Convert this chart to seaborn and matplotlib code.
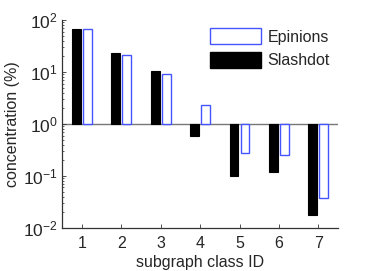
import numpy as np
import pandas as pd
import seaborn as sns
import matplotlib
matplotlib.use("Agg")
import matplotlib.pyplot as plt
from matplotlib.patches import Patch

classes = ["1", "2", "3", "4", "5", "6", "7"]
slashdot = [67, 23, 10.4, 0.6, 0.1, 0.12, 0.018]
epinions = [68, 21, 9.2, 2.3, 0.28, 0.25, 0.038]

sns.set_style("ticks")
plt.rcParams["font.family"] = ["Liberation Sans", "DejaVu Sans"]
plt.rcParams["mathtext.fontset"] = "custom"
plt.rcParams["mathtext.rm"] = "Liberation Sans"
plt.rcParams["mathtext.it"] = "Liberation Sans:italic"
plt.rcParams["xtick.direction"] = "in"
plt.rcParams["ytick.direction"] = "in"

df = pd.DataFrame({
    "cls": classes * 2,
    "val": np.log10(slashdot + epinions),
    "net": ["Slashdot"] * 7 + ["Epinions"] * 7,
})

blue = "#4455ff"
fig = plt.figure(figsize=(3.74, 2.71), dpi=100)
ax = fig.add_axes([0.166, 0.159, 0.738, 0.767])
sns.barplot(data=df, x="cls", y="val", hue="net", hue_order=["Slashdot", "Epinions"],
            palette=["black", "white"], width=0.56, gap=0.2, legend=False, ax=ax)

for p in ax.containers[0]:
    p.set_facecolor("black")
    p.set_edgecolor("black")
    p.set_linewidth(0.8)
for p in ax.containers[1]:
    p.set_facecolor("white")
    p.set_edgecolor(blue)
    p.set_linewidth(1.0)

ax.axhline(0, color="#777777", lw=1.0, zorder=0.5)
ax.set_xlim(-0.5, 6.5)
ax.set_ylim(-2, 2)
ax.set_yticks([-2, -1, 0, 1, 2])
ax.set_yticklabels([r"$10^{-2}$", r"$10^{-1}$", r"$10^{0}$", r"$10^{1}$", r"$10^{2}$"])
minor = [k + np.log10(m) for k in range(-2, 2) for m in range(2, 10)]
ax.set_yticks(minor, minor=True)
ax.tick_params(axis="x", labelsize=11.5, length=3, width=0.6, color="#333333", pad=6)
ax.tick_params(axis="y", labelsize=12.5, length=3, width=0.6, color="#333333", pad=3)
ax.tick_params(axis="y", which="minor", length=1.5, width=0.5)
sns.despine(ax=ax)
for s in ["left", "bottom"]:
    ax.spines[s].set_color("#333333")
    ax.spines[s].set_linewidth(0.9)

ax.set_xlabel("subgraph class ID", fontsize=11.5, labelpad=3)
ax.set_ylabel("concentration (%)", fontsize=11.5, labelpad=2)

handles = [Patch(facecolor="white", edgecolor=blue, label="Epinions"),
           Patch(facecolor="black", edgecolor="black", label="Slashdot")]
ax.legend(handles=handles, loc="upper right", bbox_to_anchor=(1.0, 1.0), frameon=False,
          fontsize=11.5, handlelength=3.2, handleheight=1.2, handletextpad=0.4,
          labelspacing=0.45, borderaxespad=0.1)

fig.savefig("out.png", dpi=100)
